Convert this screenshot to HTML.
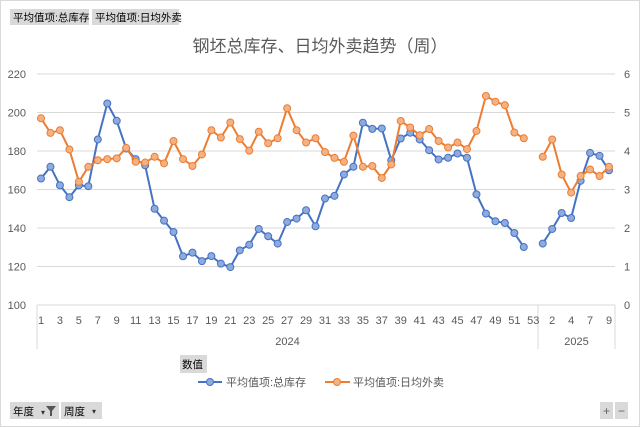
<!DOCTYPE html>
<html><head><meta charset="utf-8">
<style>
body{margin:0;width:640px;height:427px;background:#fff;overflow:hidden;font-family:"Liberation Sans","Noto Sans CJK SC",sans-serif;}
svg{position:absolute;left:0;top:0}
</style></head>
<body>
<svg id="chart" width="640" height="427" viewBox="0 0 640 427" xmlns="http://www.w3.org/2000/svg" font-family="Liberation Sans, Noto Sans CJK SC, sans-serif">
<rect x="0.5" y="0.5" width="639" height="426" fill="#fff" stroke="#d9d9d9"/>
<g><rect x="10" y="9" width="79" height="16" fill="#d9d9d9"/><text x="13" y="21" font-size="10.5" fill="#000">平均值项:总库存</text></g>
<g><rect x="92" y="9" width="87" height="16" fill="#d9d9d9"/><text x="95" y="21" font-size="10.5" fill="#000">平均值项:日均外卖</text></g>
<text x="320" y="52" text-anchor="middle" font-size="17" fill="#595959">钢坯总库存、日均外卖趋势（周）</text>
<g id="grid"></g>
<g id="axes"></g>
<g id="series"></g>
<g><rect x="180" y="355" width="27" height="18" fill="#d9d9d9"/><text x="182" y="368" font-size="10.5" fill="#000">数值</text></g>
<g><line x1="198" y1="382" x2="222" y2="382" stroke="#4472c4" stroke-width="2"/><circle cx="210" cy="382" r="3.5" fill="#8faadc" stroke="#4472c4"/><text x="226" y="386" font-size="11" fill="#595959">平均值项:总库存</text></g>
<g><line x1="325" y1="382" x2="350" y2="382" stroke="#ed7d31" stroke-width="2"/><circle cx="337" cy="382" r="3.5" fill="#f4b183" stroke="#ed7d31"/><text x="353" y="386" font-size="11" fill="#595959">平均值项:日均外卖</text></g>
<g><rect x="10" y="402" width="49" height="17" fill="#d9d9d9"/><text x="13" y="415" font-size="10.5" fill="#000">年度</text><text x="41" y="415" font-size="8" fill="#333">▾</text><path d="M46 406 h10 l-4 5 v5 h-2 v-5z" fill="#555"/></g>
<g><rect x="61" y="402" width="41" height="17" fill="#d9d9d9"/><text x="64" y="415" font-size="10.5" fill="#000">周度</text><text x="92" y="414" font-size="8" fill="#333">▾</text></g>
<g><rect x="600" y="402" width="13" height="17" fill="#d9d9d9"/><text x="606.5" y="415" text-anchor="middle" font-size="12" fill="#666">+</text></g>
<g><rect x="615" y="402" width="13" height="17" fill="#d9d9d9"/><text x="621.5" y="415" text-anchor="middle" font-size="12" fill="#666">−</text></g>
</svg>
<script>
const years=["2024","2025"];
const weeks2024=[];for(let i=1;i<=53;i++)weeks2024.push(String(i));
const weeks2025=["1","2","3","4","6","7","8","9"];
const inventory=[165.7,171.8,162.2,156,162.2,161.7,186,204.7,195.7,181.3,175.8,172.6,150,143.8,137.9,125.3,127.2,122.8,125.4,121.5,119.7,128.4,131.3,139.5,135.7,131.9,143.1,144.9,149.2,140.9,155.3,156.7,167.8,171.8,194.7,191.5,191.7,175.2,186.5,189.5,186,180.4,175.6,176.5,178.7,176.5,157.5,147.5,143.5,142.6,137.4,130.1,null,
131.9,139.5,147.8,145.2,164.5,179,177.5,170];
const sales=[4.85,4.47,4.54,4.04,3.2,3.59,3.76,3.79,3.81,4.08,3.72,3.70,3.85,3.68,4.26,3.79,3.61,3.91,4.54,4.35,4.74,4.31,4.01,4.5,4.2,4.33,5.11,4.54,4.22,4.33,3.97,3.82,3.72,4.4,3.59,3.61,3.3,3.65,4.78,4.61,4.41,4.57,4.26,4.09,4.22,4.05,4.52,5.43,5.28,5.19,4.48,4.33,null,
3.85,4.3,3.39,2.92,3.35,3.52,3.35,3.59];
const leftTicks=[100,120,140,160,180,200,220];
const rightTicks=[0,1,2,3,4,5,6];

const NS="http://www.w3.org/2000/svg";
const cats=weeks2024.concat(weeks2025);
const X0=41,X1=609,Y0=305,Y1=74;
const xs=i=>X0+i*(X1-X0)/(cats.length-1);
const yl=v=>Y0-(v-100)/120*(Y0-Y1);
const yr=v=>Y0-v/6*(Y0-Y1);
function mk(tag,attrs,parent){const e=document.createElementNS(NS,tag);for(const k in attrs)e.setAttribute(k,attrs[k]);parent.appendChild(e);return e;}
const grid=document.getElementById('grid'),axes=document.getElementById('axes'),series=document.getElementById('series');
leftTicks.forEach((t,i)=>{
  const y=yl(t);
  if(i>0){const g=mk('line',{x1:37,x2:615,y1:y,y2:y,stroke:'#d9d9d9','stroke-width':1},grid);
  
  }
  const tx=mk('text',{x:26,y:y+4,'text-anchor':'end','font-size':11,fill:'#595959'},axes);tx.textContent=t;
  
  
});
rightTicks.forEach(t=>{
  const tx=mk('text',{x:624,y:yr(t)+4,'font-size':11,fill:'#595959'},axes);tx.textContent=t;
  
  
});
const ax=mk('line',{x1:37,x2:615,y1:Y0,y2:Y0,stroke:'#d9d9d9'},axes);


const bx=(xs(52)+xs(53))/2;
[37,bx,615].forEach(x=>{const l=mk('line',{x1:x,x2:x,y1:Y0,y2:349,stroke:'#d9d9d9'},axes);

});
cats.forEach((c,i)=>{ if(i%2) return;
  const tx=mk('text',{x:xs(i),y:324,'text-anchor':'middle','font-size':11,fill:'#595959'},axes);tx.textContent=c;
  
  
});
[[years[0],(37+bx)/2],[years[1],(bx+615)/2]].forEach(([y,x])=>{
  const tx=mk('text',{x:x,y:345,'text-anchor':'middle','font-size':11,fill:'#595959'},axes);tx.textContent=y;
  
  
});
function draw(data,yf,stroke,fill,name){
  const g=mk('g',{},series);
  
  
  let d='',pen=false;
  data.forEach((v,i)=>{ if(v===null){pen=false;return;} d+=(pen?'L':'M')+xs(i).toFixed(1)+' '+yf(v).toFixed(1); pen=true;});
  mk('path',{d:d,fill:'none',stroke:stroke,'stroke-width':2,'stroke-linejoin':'round'},g);
  data.forEach((v,i)=>{ if(v===null)return;
    const c=mk('circle',{cx:xs(i),cy:yf(v),r:3.5,fill:fill,stroke:stroke,'stroke-width':1},g);
    
    
  });
}
draw(inventory,yl,'#4472c4','#8faadc','inventory');
draw(sales,yr,'#ed7d31','#f4b183','sales');
</script>
</body></html>
